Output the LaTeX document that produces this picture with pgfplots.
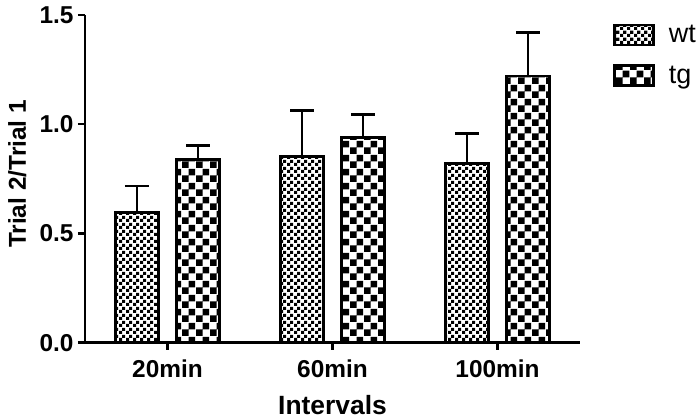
\documentclass[border=0pt]{standalone}
\usepackage{pgfplots}
\pgfplotsset{compat=1.18}
\usepackage{fontspec}
\setmainfont{Liberation Sans}
\usetikzlibrary{patterns}
\pgfdeclarepatternformonly{finecheck}{\pgfpointorigin}{\pgfpoint{6.6bp}{6.6bp}}{\pgfpoint{6.6bp}{6.6bp}}{%
  \pgfpathrectangle{\pgfpointorigin}{\pgfpoint{3.3bp}{3.3bp}}%
  \pgfpathrectangle{\pgfpoint{3.3bp}{3.3bp}}{\pgfpoint{3.3bp}{3.3bp}}%
  \pgfusepath{fill}}
\pgfdeclarepatternformonly{coarsecheck}{\pgfpointorigin}{\pgfpoint{14bp}{14bp}}{\pgfpoint{14bp}{14bp}}{%
  \pgfpathrectangle{\pgfpointorigin}{\pgfpoint{7bp}{7bp}}%
  \pgfpathrectangle{\pgfpoint{7bp}{7bp}}{\pgfpoint{7bp}{7bp}}%
  \pgfusepath{fill}}
\begin{document}
\begin{tikzpicture}
\begin{axis}[
  scale only axis, width=495bp, height=327.7bp,
  xmin=-0.5, xmax=2.5, ymin=0, ymax=1.5,
  ybar=18bp, bar width=43bp,
  axis lines=left, axis line style={-, line width=2.5bp},
  tick align=outside, major tick length=7bp,
  every tick/.style={black, line width=2.5bp},
  xtick={0,1,2}, xticklabels={20min,60min,100min},
  ytick={0,0.5,1,1.5},
  /pgf/number format/assume math mode=true,
  yticklabel style={xshift=-1bp, /pgf/number format/.cd, fixed, fixed zerofill, precision=1},
  tick label style={font=\bfseries\fontsize{24.5}{24.5}\selectfont},
  xticklabel style={yshift=-7bp},
  xlabel={Intervals}, ylabel={Trial 2/Trial 1},
  every axis x label/.style={at={(axis description cs:0.5,-0.189)}, anchor=center, font=\bfseries\fontsize{26.5}{26.5}\selectfont},
  every axis y label/.style={at={(axis description cs:-0.137,0.515)}, rotate=90, anchor=center, font=\bfseries\fontsize{24.5}{24.5}\selectfont},
  legend image code/.code={\draw[#1, line width=2.5bp] (0bp,-10bp) rectangle (39bp,10bp); \path (51bp,0bp);},
  legend style={draw=none, fill=none, at={(1.0667,0.975)}, anchor=north west, inner sep=0pt,
    font=\fontsize{27}{27}\selectfont, row sep=18bp, cells={anchor=west}},
]
\addplot[draw=black, line width=2.8bp, pattern=finecheck,
  error bars/.cd, y dir=plus, y explicit,
  error bar style={line width=2.8bp, black},
  error mark options={rotate=90, line width=2.8bp, mark size=12bp, black}]
  coordinates {(0,0.595) +- (0,0.122) (1,0.852) +- (0,0.210) (2,0.821) +- (0,0.138)};
\addlegendentry{wt}
\addplot[draw=black, line width=2.8bp, pattern=coarsecheck,
  error bars/.cd, y dir=plus, y explicit,
  error bar style={line width=2.8bp, black},
  error mark options={rotate=90, line width=2.8bp, mark size=12bp, black}]
  coordinates {(0,0.837) +- (0,0.065) (1,0.939) +- (0,0.104) (2,1.221) +- (0,0.198)};
\addlegendentry{tg}
\end{axis}
\pgfresetboundingbox
\path (-85bp,-77.3bp) rectangle (615bp,342.7bp);
\end{tikzpicture}
\end{document}
